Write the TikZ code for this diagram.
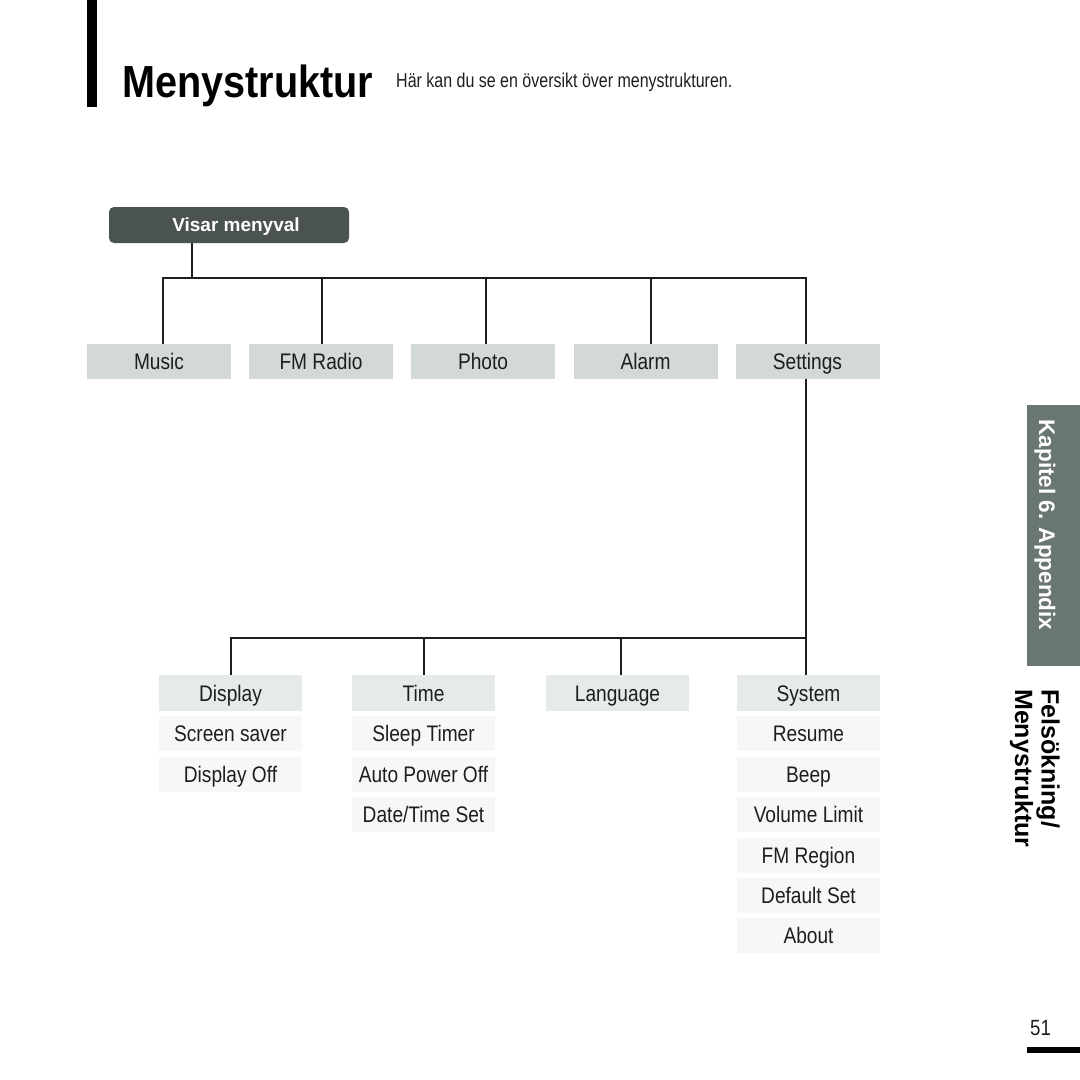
\documentclass[tikz,border=0pt]{standalone}
\usepackage{fontspec}
\usepackage{graphicx}
\setmainfont{Liberation Sans}
\newfontfamily\cond{Liberation Sans}[FakeStretch=0.85]
\newfontfamily\condsub{Liberation Sans}[FakeStretch=0.8]
\newfontfamily\condb{Liberation Sans}[FakeStretch=0.88]
\definecolor{darkbox}{HTML}{4A5352}
\definecolor{topbox}{HTML}{D3D9D8}
\definecolor{headbox}{HTML}{E6EBEA}
\definecolor{subbox}{HTML}{F7F7F7}
\definecolor{tabgray}{HTML}{6A7674}
\definecolor{txt}{HTML}{1E1E1E}
\tikzset{
  conn/.style={line width=2pt, draw=txt},
  itembox/.style={minimum width=144pt, minimum height=35pt, inner sep=0pt, text=txt,
     text height=16pt, text depth=0pt,
     font=\cond\fontsize{22.5}{26}\selectfont},
  topitem/.style={itembox, fill=topbox},
  headitem/.style={itembox, fill=headbox, minimum width=143pt, minimum height=36pt},
  subitem/.style={itembox, fill=subbox, minimum width=143pt},
}
\begin{document}
\begin{tikzpicture}[x=1pt,y=-1pt]
\useasboundingbox (0,0) rectangle (1080,1080);
% header
\fill[black] (87,0) rectangle (97,107);
\node[anchor=base west, inner sep=0pt, text=black] (title) at (122,97)
  {\condb\bfseries\fontsize{45}{50}\selectfont Menystruktur};
\node[anchor=base west, inner sep=0pt, text=txt] (subtitle) at (396,87)
  {\condsub\fontsize{20}{24}\selectfont Här kan du se en översikt över menystrukturen.};
% root
\node[fill=darkbox, rounded corners=5pt, minimum width=240pt, minimum height=36pt, inner sep=0pt,
  text=white, text height=13.6pt, text depth=0pt,
  font=\bfseries\fontsize{19}{22}\selectfont] (visar) at (229,225) {\hspace*{14pt}Visar menyval};
% level 1
\node[topitem] (music) at (159,361.5) {Music};
\node[topitem] (fm) at (321,361.5) {FM Radio};
\node[topitem] (photo) at (483,361.5) {Photo};
\node[topitem] (alarm) at (645.5,361.5) {Alarm};
\node[topitem] (settings) at (807.5,361.5) {Settings};
\coordinate (bus) at (0,278);
\draw[conn] ([xshift=-37pt]visar.south) -- ([xshift=-37pt]visar.south |- bus);
\draw[conn] ([xshift=4pt]music.north) |- ([xshift=-1.5pt]settings.north |- bus) -- ([xshift=-1.5pt]settings.north);
\draw[conn] ([xshift=1pt]fm.north) -- ([xshift=1pt]fm.north |- bus);
\draw[conn] ([xshift=3pt]photo.north) -- ([xshift=3pt]photo.north |- bus);
\draw[conn] ([xshift=5pt]alarm.north) -- ([xshift=5pt]alarm.north |- bus);
% level 2
\node[headitem] (display) at (230.5,693) {Display};
\node[headitem] (time) at (423.5,693) {Time};
\node[headitem] (language) at (617.5,693) {Language};
\node[headitem] (system) at (808.5,693) {System};
\coordinate (bus2) at (0,638);
\draw[conn] ([xshift=-1.5pt]settings.south) -- ([xshift=-1.5pt]settings.south |- bus2);
\draw[conn] (display.north) |- ([xshift=-2.5pt]system.north |- bus2) -- ([xshift=-2.5pt]system.north);
\draw[conn] (time.north) -- (time.north |- bus2);
\draw[conn] ([xshift=3.5pt]language.north) -- ([xshift=3.5pt]language.north |- bus2);
% sub items
\node[subitem] (screensaver) at (230.5,733.5) {Screen saver};
\node[subitem] (displayoff) at (230.5,774.5) {Display Off};
\node[subitem] (sleep) at (423.5,733.5) {Sleep Timer};
\node[subitem] (autopower) at (423.5,774.5) {Auto Power Off};
\node[subitem] (datetime) at (423.5,814.5) {Date/Time Set};
\node[subitem] (resume) at (808.5,733.5) {Resume};
\node[subitem] (beep) at (808.5,774.5) {Beep};
\node[subitem] (volume) at (808.5,814.5) {Volume Limit};
\node[subitem] (fmregion) at (808.5,855) {FM Region};
\node[subitem] (default) at (808.5,895.5) {Default Set};
\node[subitem] (about) at (808.5,935.5) {About};
% side tab
\fill[tabgray] (1027,405) rectangle (1080,666);
\node[rotate=-90, text=white, inner sep=0pt, font=\bfseries\fontsize{22.5}{26}\selectfont] (kapitel) at (1045,525) {Kapitel 6. Appendix};
\node[rotate=-90, anchor=north west, align=left, inner sep=0pt, text=black,
  font=\bfseries\fontsize{25}{26.5}\selectfont] (fels) at (1060,689) {Felsökning/\\Menystruktur};
% page number
\node[anchor=base west, inner sep=0pt, text=txt, font=\cond\fontsize{22}{26}\selectfont] (pagenum) at (1030,1035) {51};
\fill[black] (1027,1047) rectangle (1080,1053);
\end{tikzpicture}
\end{document}
